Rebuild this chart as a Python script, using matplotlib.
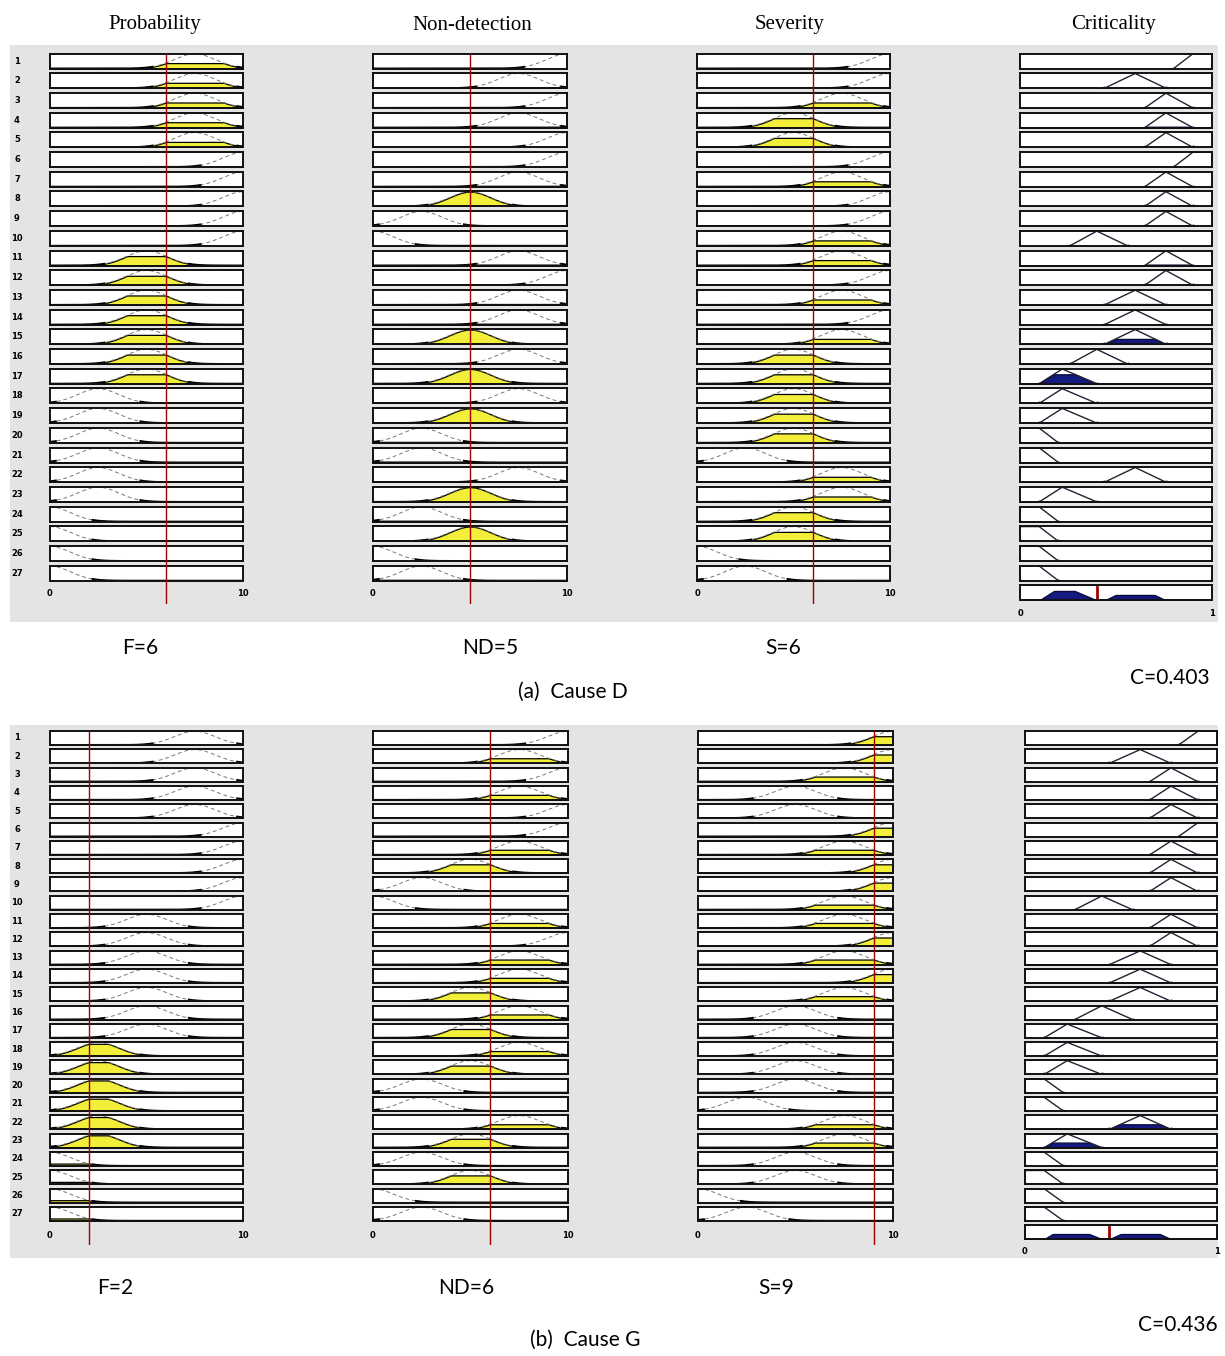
import matplotlib
matplotlib.use("Agg")
import matplotlib.pyplot as plt
from matplotlib.patches import Rectangle
import numpy as np

FIG_W, FIG_H = 1225, 1356

# rule base: membership function centre of each input, output term of each rule
RULES = list(range(1, 28))
PROB_CENTER = [7.5, 7.5, 7.5, 7.5, 7.5, 10, 10, 10, 10, 10, 5, 5, 5, 5,
               5, 5, 5, 2.5, 2.5, 2.5, 2.5, 2.5, 2.5, 0, 0, 0, 0]
NONDET_CENTER = [10, 7.5, 10, 7.5, 10, 10, 7.5, 5, 2.5, 0, 7.5, 10, 7.5, 7.5,
                 5, 7.5, 5, 7.5, 5, 2.5, 2.5, 7.5, 5, 2.5, 5, 0, 2.5]
SEVERITY_CENTER = [10, 10, 7.5, 5, 5, 10, 7.5, 10, 10, 7.5, 7.5, 10, 7.5, 10,
                   7.5, 5, 5, 5, 5, 5, 2.5, 7.5, 7.5, 5, 5, 0, 2.5]
CRIT_TERM = ["VH", "MH", "H", "H", "H", "VH", "H", "H", "H", "M", "H", "H", "MH", "MH",
             "MH", "M", "L", "L", "L", "VL", "VL", "MH", "L", "VL", "VL", "VL", "VL"]
INPUT_SIGMA = 1.06
CRIT_MF = {
    "VL": [0.0, 0.0, 0.1, 0.2],
    "L": [0.1, 0.22, 0.4],
    "M": [0.26, 0.4, 0.56],
    "MH": [0.44, 0.6, 0.76],
    "H": [0.65, 0.76, 0.9],
    "VH": [0.8, 0.9, 1.0, 1.0],
}

COLUMN_TITLES = ["Probability", "Non-detection", "Severity", "Criticality"]
CASES = ["(a)  Cause D", "(b)  Cause G"]
F_VALUES = [6, 2]
ND_VALUES = [5, 6]
S_VALUES = [6, 9]
C_VALUES = [0.403, 0.436]

# pixel layout of the two panels
PANELS = [
    dict(top=45, bottom=622, row0=61, step=19.7, box_h=15,
         cols=[(50, 243), (373, 567), (697, 890), (1020, 1212)],
         tick_y=594, crit_tick_y=614, label_y=648, label_x=[140, 490, 783],
         c_xy=(1170, 678), case_xy=(573, 692)),
    dict(top=725, bottom=1258, row0=738, step=18.3, box_h=14,
         cols=[(50, 243), (373, 568), (698, 893), (1025, 1217)],
         tick_y=1235, crit_tick_y=1252, label_y=1288, label_x=[115, 466, 776],
         c_xy=(1178, 1325), case_xy=(585, 1340)),
]

YELLOW = "#f2ee3a"
NAVY = "#141a80"
RED = "#a00000"
LABEL_FONT = ["Lato", "DejaVu Sans"]

fig = plt.figure(figsize=(FIG_W / 100, FIG_H / 100), dpi=100)
fig.patch.set_facecolor("white")


def fax(x0, y0, x1, y1):
    return fig.add_axes([x0 / FIG_W, 1 - y1 / FIG_H, (x1 - x0) / FIG_W, (y1 - y0) / FIG_H])


def ftext(x, y, s, **kw):
    fig.text(x / FIG_W, 1 - y / FIG_H, s, **kw)


def gauss(x, c):
    return np.exp(-(np.asarray(x, dtype=float) - c) ** 2 / (2 * INPUT_SIGMA ** 2))


def out_mf(x, p):
    if len(p) == 3:
        return np.interp(x, p, [0, 1, 0], left=0, right=0)
    xp = [p[0] - 1e-9 if p[0] == p[1] else p[0], p[1], p[2],
          p[3] + 1e-9 if p[3] == p[2] else p[3]]
    return np.interp(x, xp, [0, 1, 1, 0], left=0, right=0)


def box(ax, xmax):
    ax.set_xlim(0, xmax)
    ax.set_ylim(0, 1.02)
    ax.set_xticks([])
    ax.set_yticks([])
    ax.set_facecolor("white")
    for sp in ax.spines.values():
        sp.set_linewidth(1.4)
        sp.set_color("#111111")


xin = np.linspace(0, 10, 400)
xout = np.linspace(0, 1, 400)
centers = [PROB_CENTER, NONDET_CENTER, SEVERITY_CENTER]

for k, pn in enumerate(PANELS):
    values = [F_VALUES[k], ND_VALUES[k], S_VALUES[k]]
    fig.add_artist(Rectangle((10 / FIG_W, 1 - pn["bottom"] / FIG_H), 1208 / FIG_W,
                             (pn["bottom"] - pn["top"]) / FIG_H, transform=fig.transFigure,
                             facecolor="#e4e4e4", edgecolor="none", zorder=0))
    h = pn["box_h"]
    agg = np.zeros_like(xout)
    for i, rule in enumerate(RULES):
        yc = pn["row0"] + pn["step"] * i
        ftext(17, yc, str(rule), fontsize=6, fontweight="bold", ha="center", va="center")
        strengths = []
        for col in range(3):
            x0, x1 = pn["cols"][col]
            ax = fax(x0, yc - h / 2, x1, yc + h / 2)
            box(ax, 10)
            mu = gauss(xin, centers[col][i])
            level = float(gauss(values[col], centers[col][i]))
            strengths.append(level)
            if level > 0.003:
                ax.fill_between(xin, 0, np.minimum(mu, level), facecolor=YELLOW,
                                edgecolor="black", linewidth=0.9)
            ax.plot(xin, mu, color="#7a7a66", lw=0.7, ls=(0, (4, 3)))
            # tails of the curve merge with the lower border
            ax.plot(xin, np.where(mu < 0.12, mu, np.nan), color="black", lw=1.4)
        w = min(strengths)
        x0, x1 = pn["cols"][3]
        ax = fax(x0, yc - h / 2, x1, yc + h / 2)
        box(ax, 1)
        p = CRIT_MF[CRIT_TERM[i]]
        clipped = np.minimum(out_mf(xout, p), w)
        agg = np.maximum(agg, clipped)
        if w > 0.003:
            ax.fill_between(xout, 0, clipped, facecolor=NAVY, edgecolor="#0a0a40", linewidth=0.9)
        ax.plot(p, [0, 1, 0] if len(p) == 3 else [0, 1, 1, 0], color="#222233", lw=1.0,
                marker="o", markersize=1.8, markevery=[0, len(p) - 1])

    # aggregated output with the centroid
    yc = pn["row0"] + pn["step"] * 27
    x0, x1 = pn["cols"][3]
    ax = fax(x0, yc - h / 2, x1, yc + h / 2)
    box(ax, 1)
    ax.fill_between(xout, 0, agg, facecolor=NAVY, edgecolor="#0a0a40", linewidth=1.0)
    ax.axvline(C_VALUES[k], ymin=0, ymax=0.9, color=RED, lw=2)
    ftext(x0, pn["crit_tick_y"], "0", fontsize=6, fontweight="bold", ha="center", va="center")
    ftext(x1, pn["crit_tick_y"], "1", fontsize=6, fontweight="bold", ha="center", va="center")

    # red input lines and 0..10 ticks
    top = pn["row0"] - h / 2
    for col in range(3):
        x0, x1 = pn["cols"][col]
        ov = fax(x0, top, x1, pn["tick_y"] + 10)
        ov.set_xlim(0, 10)
        ov.set_ylim(0, 1)
        ov.axis("off")
        ov.axvline(values[col], color=RED, lw=1.0)
        ftext(x0, pn["tick_y"], "0", fontsize=6, fontweight="bold", ha="center", va="center")
        ftext(x1, pn["tick_y"], "10", fontsize=6, fontweight="bold", ha="center", va="center")

    names = ["F", "ND", "S"]
    for col in range(3):
        ftext(pn["label_x"][col], pn["label_y"], "%s=%d" % (names[col], values[col]),
              fontsize=15, family=LABEL_FONT, ha="center", va="center")
    ftext(pn["c_xy"][0], pn["c_xy"][1], "C=%.3f" % C_VALUES[k],
          fontsize=15, family=LABEL_FONT, ha="center", va="center")
    ftext(pn["case_xy"][0], pn["case_xy"][1], CASES[k],
          fontsize=15, family=LABEL_FONT, ha="center", va="center")

title_x = [155, 472, 790, 1113]
for t, tx in zip(COLUMN_TITLES, title_x):
    ftext(tx, 25, t, fontsize=15, family=["Liberation Serif", "DejaVu Serif"],
          ha="center", va="center")

fig.savefig("out.png", dpi=100)
